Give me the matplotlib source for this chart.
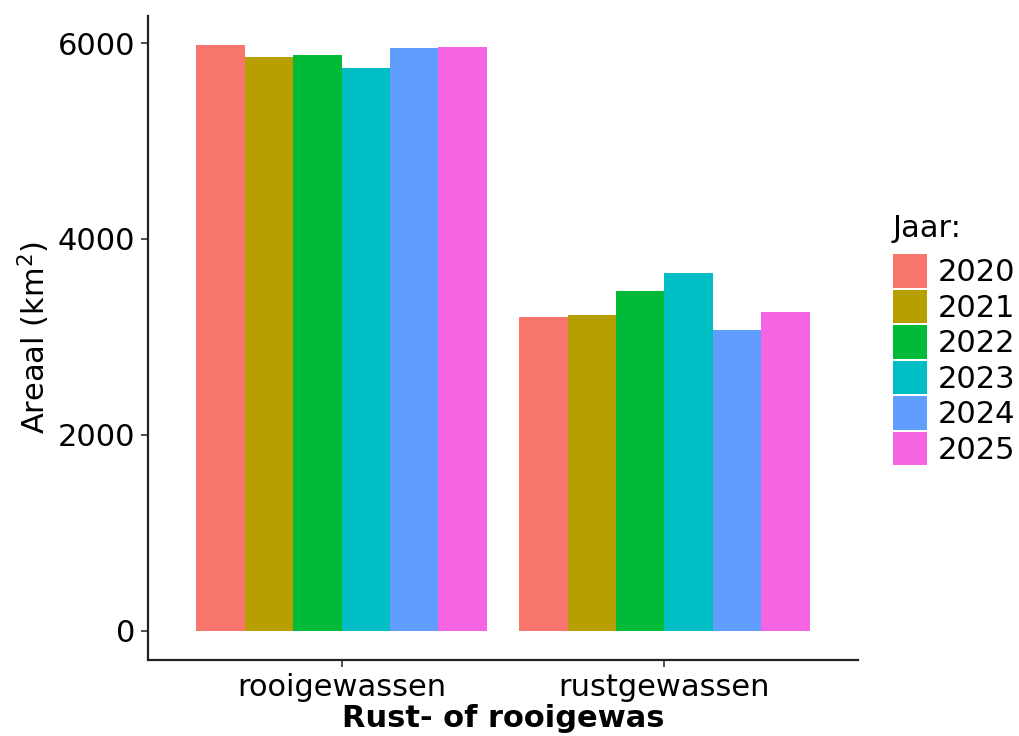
import matplotlib
matplotlib.use("Agg")
import matplotlib.pyplot as plt
import numpy as np
from matplotlib.patches import Patch

categories = ["rooigewassen", "rustgewassen"]
years = ["2020", "2021", "2022", "2023", "2024", "2025"]
values = {
    "2020": [5977, 3201],
    "2021": [5854, 3224],
    "2022": [5881, 3469],
    "2023": [5748, 3656],
    "2024": [5946, 3074],
    "2025": [5962, 3255],
}
colors = ["#F8766D", "#B79F00", "#00BA38", "#00BFC4", "#619CFF", "#F564E3"]
yticks = [0, 2000, 4000, 6000]

plt.rcParams['font.family'] = ['DejaVu Sans']
fig = plt.figure(figsize=(10.19, 7.36), dpi=100)
ax = fig.add_axes([148/1019, 1-660/736, (858-148)/1019, (660-16)/736])

x = np.arange(1, len(categories) + 1)
n = len(years)
bw = 0.9 / n
for i, (yr, c) in enumerate(zip(years, colors)):
    ax.bar(x - 0.45 + bw * (i + 0.5), values[yr], width=bw, color=c, linewidth=0, label=yr)

ymax = max(max(v) for v in values.values())
ax.set_xlim(0.4, 2.6)
ax.set_ylim(-0.05 * ymax, 1.05 * ymax)
ax.set_xticks(x)
ax.set_xticklabels(categories)
ax.set_yticks(yticks)
ax.set_yticklabels([str(t) for t in yticks])

for s in ["top", "right"]:
    ax.spines[s].set_visible(False)
for s in ["left", "bottom"]:
    ax.spines[s].set_linewidth(1.6)
    ax.spines[s].set_color("#222222")
ax.tick_params(axis="both", labelsize=22, length=5, width=1.2, color="#333333", labelcolor="#000000", pad=4)

ax.set_xlabel("Rust- of rooigewas", fontsize=22, fontweight="bold", labelpad=2)
ax.set_ylabel("Areaal (km$^2$)", fontsize=22, labelpad=4)

handles = [Patch(facecolor=c, edgecolor="none", label=yr) for yr, c in zip(years, colors)]
leg = fig.legend(handles=handles, title="Jaar:", loc="upper left",
                 bbox_to_anchor=(893/1019, 1-214/736), frameon=False,
                 fontsize=22, title_fontsize=22, handlelength=1.11, handleheight=1.32,
                 labelspacing=0.06, handletextpad=0.36, borderaxespad=0, borderpad=0)
leg._legend_box.align = "left"
leg._legend_box.sep = 8

fig.savefig("out.png", dpi=100)
